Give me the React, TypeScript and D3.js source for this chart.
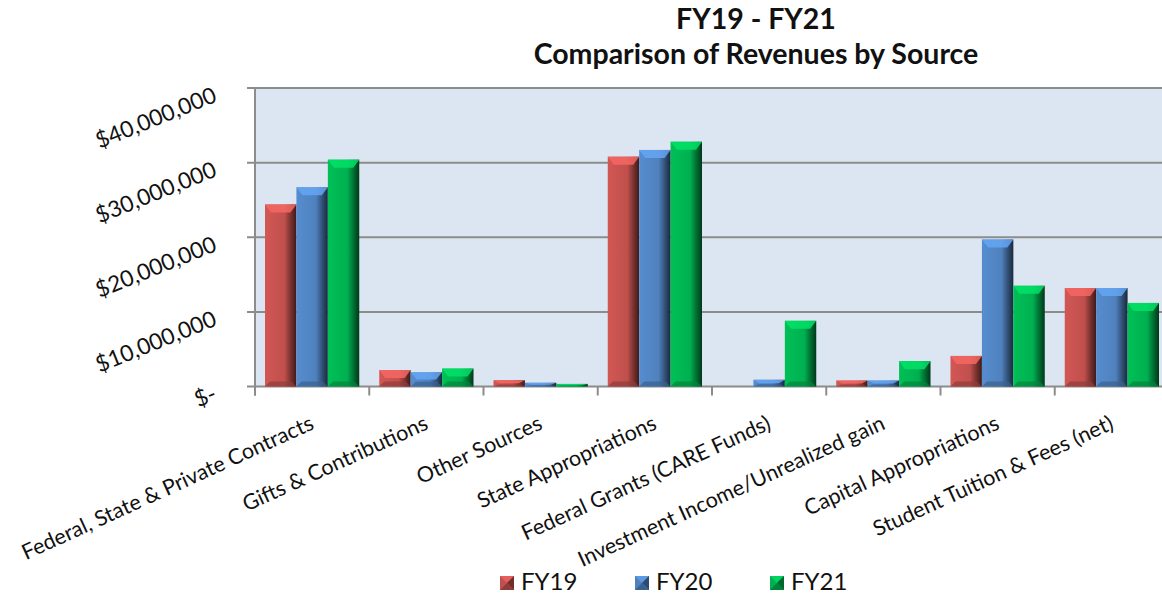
import * as d3 from 'd3';
import * as React from "react";

const categories = [
    "Federal, State & Private Contracts",
    "Gifts & Contributions",
    "Other Sources",
    "State Appropriations",
    "Federal Grants (CARE Funds)",
    "Investment Income/Unrealized gain",
    "Capital Appropriations",
    "Student Tuition & Fees (net)",
];
const seriesNames = ["FY19", "FY20", "FY21"];
const fy19 = [24400000, 2200000, 850000, 30800000, 0, 800000, 4100000, 13200000];
const fy20 = [26700000, 1900000, 500000, 31700000, 900000, 800000, 19700000, 13200000];
const fy21 = [30400000, 2400000, 350000, 32800000, 8800000, 3400000, 13500000, 11200000];
const yTicks = [0, 10000000, 20000000, 30000000, 40000000];

const baseColors = ["#C0504D", "#4F81BD", "#00B050"];

const W = 1162;
const H = 597;
const margin = { top: 88, left: 255, bottom: 210 };
const plotRight = 1169;
const font = "Lato, 'Open Sans', sans-serif";

const fmt = (v: number) => v === 0 ? "$-" : "$" + d3.format(",")(v);

export default function App() {
    const values = [fy19, fy20, fy21];
    const x0 = d3.scaleBand<string>()
        .domain(categories)
        .range([margin.left, plotRight])
        .paddingInner(0.175)
        .paddingOuter(0.0875);
    const x1 = d3.scaleBand<string>()
        .domain(seriesNames)
        .range([0, x0.bandwidth()]);
    const y = d3.scaleLinear()
        .domain([0, 40000000])
        .range([H - margin.bottom - 0.5, margin.top]);
    const y0 = y(0);
    const step = x0.step();

    return (
        <svg width={W} height={H} style={{ position: "absolute", left: 0, top: 0, background: "white" }}
             fontFamily={font}>
            <defs>
                {baseColors.map((c, i) => {
                    const col = d3.color(c)!;
                    return (
                        <linearGradient key={i} id={`g${i}`} x1="0" x2="1" y1="0" y2="0">
                            <stop offset="0%" stopColor={col.brighter(0.25).toString()} />
                            <stop offset="62%" stopColor={c} />
                            <stop offset="82%" stopColor={col.darker(1.3).toString()} />
                            <stop offset="100%" stopColor={col.darker(3.2).toString()} />
                        </linearGradient>
                    );
                })}
            </defs>

            {/* plot area */}
            <rect x={margin.left} y={margin.top} width={plotRight - margin.left} height={y0 - margin.top}
                  fill="#DCE6F2" />

            {yTicks.map(t => (
                <line key={t} x1={margin.left - 8} x2={plotRight} y1={y(t)} y2={y(t)}
                      stroke="#8C8C8C" strokeWidth={2} />
            ))}
            <line x1={margin.left} x2={margin.left} y1={margin.top} y2={y0 + 9} stroke="#8C8C8C" strokeWidth={2} />
            {categories.map((c, i) => (
                <line key={c} x1={margin.left + i * step} x2={margin.left + i * step}
                      y1={y0} y2={y0 + 9} stroke="#8C8C8C" strokeWidth={2} />
            ))}

            {/* bars */}
            {categories.map((c, ci) => (
                <g key={c}>
                    {seriesNames.map((s, si) => {
                        const v = values[si][ci];
                        if (v <= 0) return null;
                        const bx = x0(c)! + x1(s)!;
                        const bw = x1.bandwidth();
                        const top = y(v);
                        const h = y0 - top;
                        const col = d3.color(baseColors[si])!;
                        const bev = Math.min(8, h / 2);
                        const bot = Math.min(5, h / 3);
                        return (
                            <g key={s}>
                                <rect x={bx} y={top} width={bw} height={h} fill={`url(#g${si})`} />
                                <polygon
                                    points={`${bx},${top} ${bx + bw},${top} ${bx + bw - 6},${top + bev} ${bx + 6},${top + bev}`}
                                    fill={col.brighter(0.7).toString()} opacity={0.85} />
                                <polygon
                                    points={`${bx},${y0} ${bx + bw},${y0} ${bx + bw - 5},${y0 - bot} ${bx + 5},${y0 - bot}`}
                                    fill={col.darker(0.8).toString()} opacity={0.7} />
                            </g>
                        );
                    })}
                </g>
            ))}

            {/* y labels */}
            {yTicks.map(t => (
                <text key={t} transform={`translate(218,${y(t) + 13}) rotate(-22)`} textAnchor="end"
                      fontSize={22.5} fill="#111">{fmt(t)}</text>
            ))}

            {/* x labels */}
            {categories.map(c => (
                <text key={c} transform={`translate(${x0(c)! + x0.bandwidth() / 2 + 3},${y0 + 42}) rotate(-24.5)`}
                      textAnchor="end" fontSize={21.5} fill="#111">{c}</text>
            ))}

            {/* title */}
            <text x={756} y={29} textAnchor="middle" fontSize={28.5} fontWeight="bold" fill="#111">FY19 - FY21</text>
            <text x={756} y={64} textAnchor="middle" fontSize={28.5} fontWeight="bold" fill="#111">Comparison of Revenues by Source</text>

            {/* legend */}
            {seriesNames.map((s, i) => {
                const lx = 500 + i * 135;
                const col = d3.color(baseColors[i])!;
                return (
                    <g key={s} transform={`translate(${lx},576)`}>
                        <rect width={14} height={14} fill={baseColors[i]} />
                        <polygon points="0,0 14,0 7,7" fill={col.brighter(0.5).toString()} />
                        <polygon points="14,0 14,14 7,7" fill={col.darker(1.5).toString()} />
                        <polygon points="0,14 14,14 7,7" fill={col.darker(0.8).toString()} />
                        <text x={21} y={14} fontSize={24} fill="#111">{s}</text>
                    </g>
                );
            })}
        </svg>
    );
}
